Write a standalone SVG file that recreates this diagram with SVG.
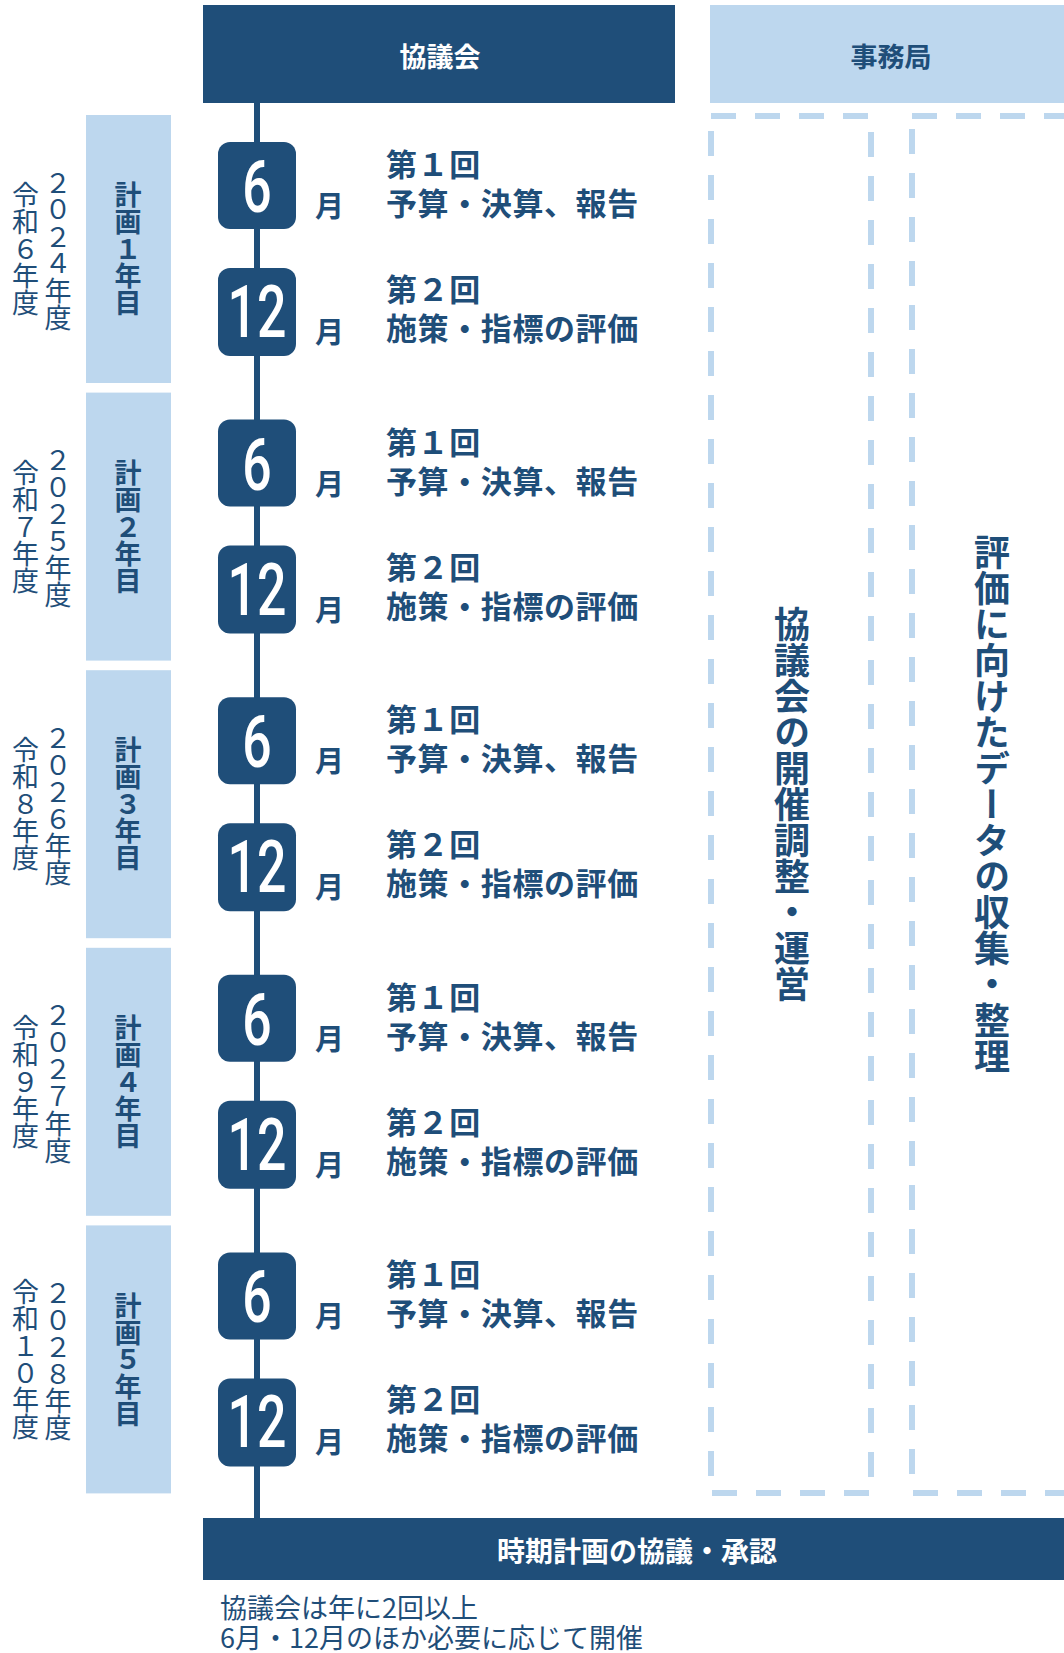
<svg xmlns="http://www.w3.org/2000/svg" width="1064" height="1653" viewBox="0 0 1064 1653">
<style>
.dk{fill:#1F4E79}
.lt{fill:#BDD7EE}
.jp{font-family:"Noto Sans CJK JP","Noto Sans",sans-serif}
.hd{font-size:27px;font-weight:700;text-anchor:middle}
.vt{writing-mode:vertical-rl;text-anchor:middle}
.yr{font-size:27px;font-weight:400;fill:#1F4E79}
.pl{font-size:27px;font-weight:700;fill:#1F4E79}
.num{font-family:Roboto,"Liberation Sans",sans-serif;font-size:72px;font-weight:500;fill:#fff;text-anchor:middle}
.mo{font-size:29px;font-weight:700;fill:#1F4E79}
.it{font-size:31px;font-weight:700;fill:#1F4E79;letter-spacing:0.6px}
.big{font-size:36px;font-weight:700;fill:#1F4E79}
.dash{stroke:#BDD7EE;stroke-width:6;stroke-dasharray:25 19;fill:none}
</style>
<defs>
<g id="block">
<rect class="lt" x="86" y="115" width="85" height="268"/>
<rect class="dk" x="218" y="142" width="78" height="87" rx="12"/>
<rect class="dk" x="218" y="268" width="78" height="88" rx="12"/>
<text class="num" transform="translate(257,212) scale(0.72,1)">6</text>
<text class="num" transform="translate(257,337) scale(0.72,1)">12</text>
<text class="jp mo" x="315" y="217">月</text>
<text class="jp mo" x="315" y="343">月</text>
<text class="jp it" x="386" y="176">第１回</text>
<text class="jp it" x="386" y="215">予算・決算、報告</text>
<text class="jp it" x="386" y="301">第２回</text>
<text class="jp it" x="386" y="340">施策・指標の評価</text>
</g>
</defs>

<g id="connectors">
<rect class="dk" x="254" y="100" width="6" height="1420"/>
</g>

<g id="header-council">
<rect class="dk" x="203" y="5" width="472" height="98"/>
<text class="jp hd" x="440" y="67" fill="#fff">協議会</text>
</g>
<g id="header-office">
<rect class="lt" x="710" y="5" width="354" height="98"/>
<text class="jp hd" x="891" y="67" fill="#1F4E79">事務局</text>
</g>

<g id="year1">
<use href="#block"/>
<text class="jp vt pl" x="128" y="249">計画１年目</text>
<text class="jp vt yr" x="58" y="250">２０２４年度</text>
<text class="jp vt yr" x="25.5" y="249">令和６年度</text>
</g>
<g id="year2" transform="translate(0,277.6)">
<use href="#block"/>
<text class="jp vt pl" x="128" y="249">計画２年目</text>
<text class="jp vt yr" x="58" y="250">２０２５年度</text>
<text class="jp vt yr" x="25.5" y="249">令和７年度</text>
</g>
<g id="year3" transform="translate(0,555.2)">
<use href="#block"/>
<text class="jp vt pl" x="128" y="249">計画３年目</text>
<text class="jp vt yr" x="58" y="250">２０２６年度</text>
<text class="jp vt yr" x="25.5" y="249">令和８年度</text>
</g>
<g id="year4" transform="translate(0,832.8)">
<use href="#block"/>
<text class="jp vt pl" x="128" y="249">計画４年目</text>
<text class="jp vt yr" x="58" y="250">２０２７年度</text>
<text class="jp vt yr" x="25.5" y="249">令和９年度</text>
</g>
<g id="year5" transform="translate(0,1110.4)">
<use href="#block"/>
<text class="jp vt pl" x="128" y="249">計画５年目</text>
<text class="jp vt yr" x="58" y="250">２０２８年度</text>
<text class="jp vt yr" x="25.5" y="249">令和１０年度</text>
</g>

<g id="council-ops">
<line class="dash" x1="711" y1="116" x2="871" y2="116"/>
<line class="dash" x1="711" y1="131" x2="711" y2="1480"/>
<line class="dash" x1="871" y1="132" x2="871" y2="1480"/>
<line class="dash" x1="712" y1="1493" x2="871" y2="1493"/>
<text class="jp vt big" x="792" y="804">協議会の開催調整・運営</text>
</g>
<g id="data-collection">
<line class="dash" x1="912" y1="116" x2="1064" y2="116"/>
<line class="dash" x1="912" y1="129" x2="912" y2="1480"/>
<line class="dash" x1="913" y1="1493" x2="1064" y2="1493"/>
<text class="jp vt big" x="992" y="804">評価に向けたデータの収集・整理</text>
</g>

<g id="approval">
<rect class="dk" x="203" y="1518" width="861" height="62"/>
<text class="jp hd" x="637" y="1562" fill="#fff" style="font-size:28px">時期計画の協議・承認</text>
</g>

<g id="note">
<text class="jp" x="220" y="1618" font-size="27" fill="#1F4E79">協議会は年に2回以上</text>
<text class="jp" x="220" y="1648" font-size="27" fill="#1F4E79">6月・12月のほか必要に応じて開催</text>
</g>
</svg>
